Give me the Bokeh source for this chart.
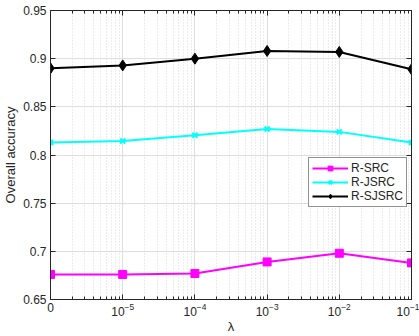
from bokeh.plotting import figure
from bokeh.models import (LogAxis, LinearAxis, LogTicker, FixedTicker, Legend, LegendItem,
                          CustomJSTickFormatter, Range1d)
from bokeh.embed import file_html
from bokeh.resources import INLINE

# regularization parameter values; lambda = 0 sits at the left end of the log axis
lambdas = [0, 1e-5, 1e-4, 1e-3, 1e-2, 1e-1]
zero_pos = 1e-6
x_pos = [v if v > 0 else zero_pos for v in lambdas]

r_src = [0.676, 0.676, 0.677, 0.689, 0.698, 0.688]
r_jsrc = [0.813, 0.8145, 0.8205, 0.827, 0.824, 0.813]
r_sjsrc = [0.890, 0.893, 0.900, 0.908, 0.907, 0.889]

y_ticks = [0.65, 0.7, 0.75, 0.8, 0.85, 0.9, 0.95]

FONT = "Liberation Sans"
DARK = "#262626"

p = figure(width=419, height=336, x_axis_type="log", output_backend="svg",
           toolbar_location=None, x_range=Range1d(zero_pos, 1e-1),
           y_range=Range1d(0.65, 0.95),
           min_border_left=41, min_border_right=8, min_border_top=10, min_border_bottom=37)
p.outline_line_color = None
p.background_fill_color = "white"
p.border_fill_color = "white"

# bottom axis
xa = p.xaxis[0]
xa.ticker = LogTicker(num_minor_ticks=10)
xa.major_label_overrides = {zero_pos: "0"}
xa.axis_label = "λ"
xa.axis_label_text_font = FONT
xa.axis_label_text_font_style = "normal"
xa.axis_label_text_font_size = "13px"
xa.axis_label_text_color = DARK
xa.axis_label_standoff = 0
xa.major_label_text_font = FONT
xa.major_label_text_font_size = "12px"
xa.major_label_text_color = DARK
xa.major_label_standoff = 3
xa.axis_line_color = DARK
xa.major_tick_line_color = DARK
xa.minor_tick_line_color = DARK
xa.major_tick_in = 5
xa.major_tick_out = 0
xa.minor_tick_in = 3
xa.minor_tick_out = 0

# left axis
ya = p.yaxis[0]
ya.ticker = FixedTicker(ticks=y_ticks)
ya.formatter = CustomJSTickFormatter(code="return tick.toString()")
ya.axis_label = "Overall accuracy"
ya.axis_label_text_font = FONT
ya.axis_label_text_font_style = "normal"
ya.axis_label_text_font_size = "13px"
ya.axis_label_text_color = DARK
ya.axis_label_standoff = 2
ya.major_label_text_font = FONT
ya.major_label_text_font_size = "12px"
ya.major_label_text_color = DARK
ya.major_label_standoff = 4
ya.axis_line_color = DARK
ya.major_tick_line_color = DARK
ya.minor_tick_line_color = None
ya.major_tick_in = 5
ya.major_tick_out = 0

# box: top and right axes with inward ticks and blank labels
blank = CustomJSTickFormatter(code="return ' '")
top = LogAxis(ticker=LogTicker(num_minor_ticks=10), formatter=blank,
              major_label_text_font_size="1px", major_label_standoff=0,
              axis_line_color=DARK, major_tick_line_color=DARK,
              minor_tick_line_color=DARK, major_tick_in=5, major_tick_out=0,
              minor_tick_in=3, minor_tick_out=0)
p.add_layout(top, "above")
right = LinearAxis(ticker=FixedTicker(ticks=y_ticks), formatter=blank,
                   major_label_text_font_size="1px", major_label_standoff=0,
                   axis_line_color=DARK, major_tick_line_color=DARK,
                   minor_tick_line_color=None, major_tick_in=5, major_tick_out=0)
p.add_layout(right, "right")

# grids
p.xgrid.grid_line_color = "#dedede"
p.xgrid.minor_grid_line_color = "#d9d9d9"
p.xgrid.minor_grid_line_dash = "1 2"
p.ygrid.ticker = FixedTicker(ticks=y_ticks)
p.ygrid.grid_line_color = "#dedede"

# series
l1 = p.line(x_pos, r_src, line_color="#ff00ff", line_width=2)
m1 = p.scatter(x_pos, r_src, marker="square", size=8, fill_color="#ff00ff", line_color="#ff00ff")
l2 = p.line(x_pos, r_jsrc, line_color="#00ffff", line_width=2)
m2 = p.scatter(x_pos, r_jsrc, marker="x", size=7, line_color="#00ffff", line_width=2)
l3 = p.line(x_pos, r_sjsrc, line_color="black", line_width=2)
m3 = p.scatter(x_pos, r_sjsrc, marker="diamond", size=11, fill_color="black", line_color="black")

legend = Legend(items=[LegendItem(label="R-SRC", renderers=[l1, m1]),
                       LegendItem(label="R-JSRC", renderers=[l2, m2]),
                       LegendItem(label="R-SJSRC", renderers=[l3, m3])],
                location=(258, 92), orientation="vertical",
                glyph_width=36, glyph_height=12, label_height=12, label_standoff=3,
                spacing=0, padding=3, margin=0,
                label_text_font=FONT, label_text_font_size="12px", label_text_color=DARK,
                border_line_color=DARK, border_line_width=1,
                background_fill_color="white", background_fill_alpha=1)
p.add_layout(legend)

open("out.html", "w").write(file_html(p, INLINE))
